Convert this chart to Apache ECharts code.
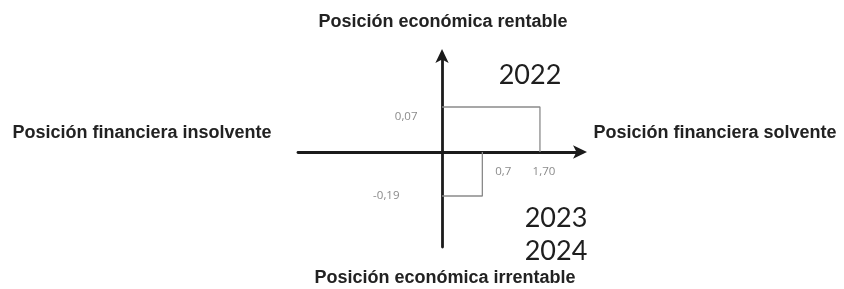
<!DOCTYPE html>
<html>
<head>
<meta charset="utf-8">
<script src="https://cdn.jsdelivr.net/npm/echarts@6/dist/echarts.min.js"></script>
<style>
  html, body { margin: 0; padding: 0; background: #fff; }
  #chart { width: 844px; height: 289px; }
</style>
</head>
<body>
<div id="chart"></div>
<script>
// years shown on the diagram
const years = ['2022', '2023', '2024'];
// financial position (x) and economic position (y) per year
const solvency = [1.70, 0.7];
const profitability = [0.07, -0.19];
// value labels as printed (decimal comma)
const xLabels = ['1,70', '0,7'];
const yLabels = ['0,07', '-0,19'];
// quadrant titles
const quadrantTitles = [
  'Posición económica rentable',
  'Posición económica irrentable',
  'Posición financiera insolvente',
  'Posición financiera solvente'
];

const chart = echarts.init(document.getElementById('chart'));

const axisColor = '#1b1b1b';
const boxColor = '#8a8a8a';
const labelStyle = { color: '#6d6d6d', fontSize: 11.5, fontFamily: 'Open Sans' };
const titleFont = 'bold 18px "Liberation Sans"';
const yearFont = '27px Lato';

// box from the axes to the point (x, y)
function boxPath(i) {
  return [[0, profitability[i]], [solvency[i], profitability[i]], [solvency[i], 0]];
}

const option = {
  animation: false,
  grid: [
    { left: 298, top: 54, width: 284, height: 98 },   // upper half (rentable)
    { left: 298, top: 152, width: 284, height: 95 }   // lower half (irrentable)
  ],
  xAxis: [
    {
      gridIndex: 0, type: 'value', min: -2.5, max: 2.43, position: 'bottom',
      axisLine: { onZero: false, lineStyle: { color: axisColor, width: 2.8 }, symbol: ['none', 'arrow'], symbolSize: [10, 14], symbolOffset: [0, 5] },
      axisTick: { show: false }, axisLabel: { show: false }, splitLine: { show: false }
    },
    { gridIndex: 1, type: 'value', min: -2.5, max: 2.43, show: false }
  ],
  yAxis: [
    {
      gridIndex: 0, type: 'value', min: 0, max: 0.07 * 98 / 45,
      axisLine: { onZero: true, lineStyle: { color: axisColor, width: 2.8 }, symbol: ['none', 'arrow'], symbolSize: [10, 14], symbolOffset: [0, 5] },
      axisTick: { show: false }, axisLabel: { show: false }, splitLine: { show: false }
    },
    {
      gridIndex: 1, type: 'value', min: -0.19 * 95 / 44, max: 0,
      axisLine: { onZero: true, lineStyle: { color: axisColor, width: 2.8 } },
      axisTick: { show: false }, axisLabel: { show: false }, splitLine: { show: false }
    }
  ],
  series: [
    {
      type: 'line', xAxisIndex: 0, yAxisIndex: 0, data: boxPath(0),
      symbol: 'none', lineStyle: { color: boxColor, width: 1.3 }, z: 1
    },
    {
      type: 'line', xAxisIndex: 1, yAxisIndex: 1, data: boxPath(1),
      symbol: 'none', lineStyle: { color: boxColor, width: 1.3 }, z: 1
    },
    {
      // value label for the upper box
      type: 'scatter', xAxisIndex: 0, yAxisIndex: 0, symbolSize: 1,
      itemStyle: { color: 'rgba(0,0,0,0)' },
      data: [
        { value: [0, profitability[0]], label: { show: true, formatter: yLabels[0], position: 'left', distance: 24, offset: [0, 10], ...labelStyle } }
      ]
    },
    {
      // value labels for the lower box and the x values
      type: 'scatter', xAxisIndex: 1, yAxisIndex: 1, symbolSize: 1,
      itemStyle: { color: 'rgba(0,0,0,0)' },
      data: [
        { value: [0, profitability[1]], label: { show: true, formatter: yLabels[1], position: 'left', distance: 42, offset: [0, 0], ...labelStyle } },
        { value: [solvency[1], 0], label: { show: true, formatter: xLabels[1], position: 'bottom', distance: 13, offset: [21, 0], ...labelStyle } },
        { value: [solvency[0], 0], label: { show: true, formatter: xLabels[0], position: 'bottom', distance: 13, offset: [4, 0], ...labelStyle } }
      ]
    }
  ],
  graphic: [
    { type: 'text', x: 443, y: 22, style: { text: quadrantTitles[0], font: titleFont, fill: '#222', align: 'center', verticalAlign: 'middle' } },
    { type: 'text', x: 445, y: 278, style: { text: quadrantTitles[1], font: titleFont, fill: '#222', align: 'center', verticalAlign: 'middle' } },
    { type: 'text', x: 142, y: 133, style: { text: quadrantTitles[2], font: titleFont, fill: '#222', align: 'center', verticalAlign: 'middle' } },
    { type: 'text', x: 715, y: 133, style: { text: quadrantTitles[3], font: titleFont, fill: '#222', align: 'center', verticalAlign: 'middle' } },
    { type: 'text', x: 530, y: 75, style: { text: years[0], font: yearFont, fill: '#1e1e1e', align: 'center', verticalAlign: 'middle' } },
    { type: 'text', x: 556, y: 218, style: { text: years[1], font: yearFont, fill: '#1e1e1e', align: 'center', verticalAlign: 'middle' } },
    { type: 'text', x: 556, y: 251, style: { text: years[2], font: yearFont, fill: '#1e1e1e', align: 'center', verticalAlign: 'middle' } }
  ]
};

chart.setOption(option);
</script>
</body>
</html>
